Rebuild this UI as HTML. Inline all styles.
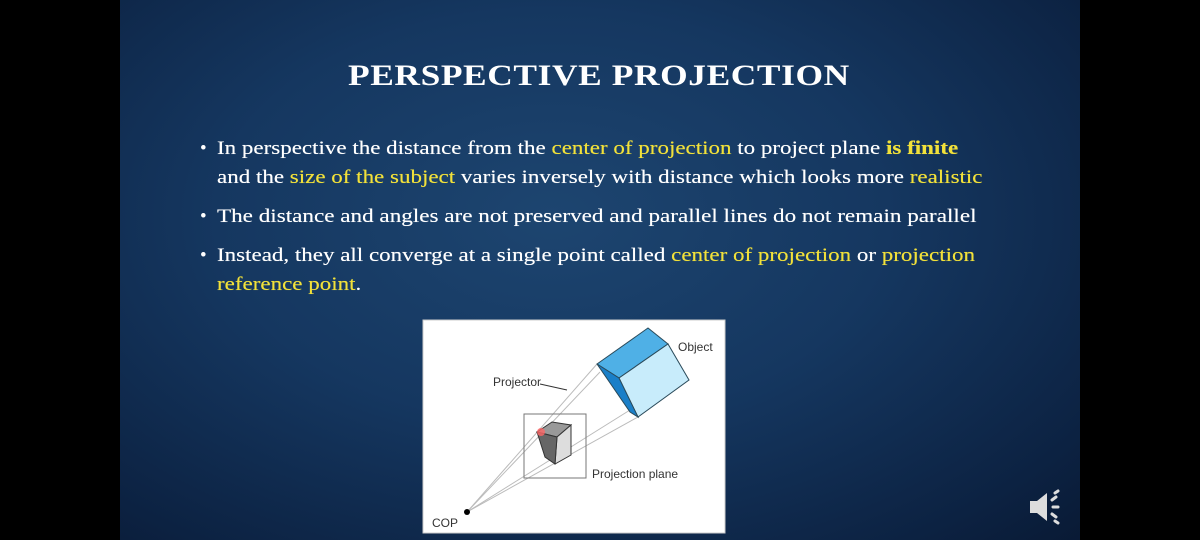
<!DOCTYPE html>
<html><head><meta charset="utf-8"><style>
html,body{margin:0;padding:0;width:1200px;height:540px;overflow:hidden;background:#000}
#slide{position:absolute;left:120px;top:0;width:960px;height:540px;
background:radial-gradient(ellipse at 45% 40%,#1d4570 0%,#153760 45%,#0c2242 85%,#091a35 100%)}
.t{position:absolute;font-family:"Liberation Serif",serif;color:#fff;white-space:nowrap;transform-origin:0 0}
#title{left:228px;top:59px;font-size:30px;font-weight:bold;letter-spacing:0.5px;transform:scaleX(1.18)}
.b{font-size:19px;left:97px;transform:scaleX(1.21);text-shadow:0 0 0.4px #fff}
.dot{position:absolute;left:80px;font-size:19px;color:#fff;font-family:"Liberation Serif",serif}
.y{color:#f2e13a;text-shadow:0 0 0.4px #f2e13a}
svg text{font-family:"Liberation Sans",sans-serif;font-size:12px;fill:#333}
</style></head><body>
<div id="slide">
<div class="t" id="title">PERSPECTIVE PROJECTION</div>
<div class="dot" style="top:138px">•</div>
<div class="t b" style="top:138px">In perspective the distance from the <span class="y">center of projection</span> to project plane <b class="y">is finite</b></div>
<div class="t b" style="top:167px">and the <span class="y">size of the subject</span> varies inversely with distance which looks more <span class="y">realistic</span></div>
<div class="dot" style="top:206px">•</div>
<div class="t b" style="top:206px;transform:scaleX(1.217)">The distance and angles are not preserved and parallel lines do not remain parallel</div>
<div class="dot" style="top:245px">•</div>
<div class="t b" style="top:245px">Instead, they all converge at a single point called <span class="y">center of projection</span> or <span class="y">projection</span></div>
<div class="t b" style="top:274px"><span class="y">reference point</span>.</div>
</div>
<svg style="position:absolute;left:0;top:0" width="1200" height="540">
<rect x="423" y="320" width="302" height="213" fill="#fff" stroke="#ccc"/>
<g stroke="#bbb" stroke-width="1">
<line x1="467" y1="512" x2="597" y2="364"/><line x1="467" y1="512" x2="638" y2="417"/>
<line x1="467" y1="512" x2="600" y2="372"/><line x1="467" y1="512" x2="630" y2="410"/>
</g>
<rect x="524" y="414" width="62" height="64" fill="none" stroke="#777"/>
<g stroke="#333" stroke-width="1">
<polygon points="537,432 552,422 571,425 557,437" fill="#999"/>
<polygon points="557,437 571,425 571,455 555,464" fill="#ddd"/>
<polygon points="537,432 557,437 555,464 545,457" fill="#666"/>
</g>
<circle cx="541" cy="432" r="4" fill="#f66" opacity="0.8"/>
<g stroke="#2a4a5a" stroke-width="1">
<polygon points="597,364 648,328 668,344 619,378" fill="#4fb0e6"/>
<polygon points="619,378 668,344 689,380 638,417" fill="#c8ecfb"/>
<polygon points="597,364 619,378 638,417 630,412" fill="#1a7fc8"/>
</g>
<line x1="540" y1="384" x2="567" y2="390" stroke="#333"/>
<circle cx="467" cy="512" r="3" fill="#000"/>
<text x="493" y="386">Projector</text>
<text x="678" y="351">Object</text>
<text x="592" y="478">Projection plane</text>
<text x="432" y="527">COP</text>
<g fill="#ddd" stroke="#ddd">
<polygon points="1030,501 1037,501 1047,493 1047,521 1037,513 1030,513" stroke="none"/>
<g stroke-width="3" stroke-linecap="round">
<line x1="1053" y1="507" x2="1058" y2="507"/>
<line x1="1052" y1="500" x2="1056" y2="497"/>
<line x1="1052" y1="514" x2="1056" y2="517"/>
<line x1="1055" y1="493" x2="1058" y2="491"/>
<line x1="1055" y1="521" x2="1058" y2="523"/>
</g></g>
</svg>
</body></html>
